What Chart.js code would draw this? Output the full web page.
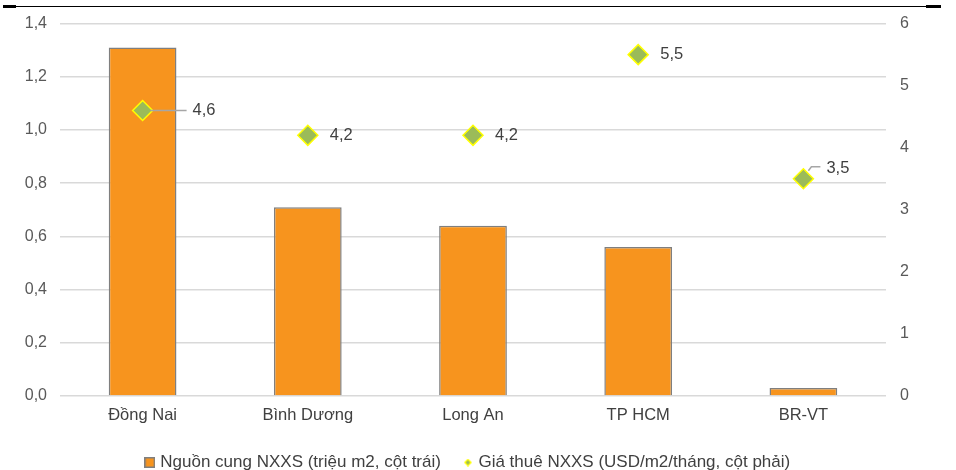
<!DOCTYPE html>
<html>
<head>
<meta charset="utf-8">
<script src="https://cdn.jsdelivr.net/npm/chart.js@4"></script>
<style>
  html, body { margin: 0; padding: 0; background: #fff; }
  #wrap { width: 956px; height: 470px; position: relative; }
</style>
</head>
<body>
<div id="wrap"><canvas id="c" width="956" height="470"></canvas></div>
<script>
// Industrial warehouse supply and rent by province
const provinces = ['Đồng Nai', 'Bình Dương', 'Long An', 'TP HCM', 'BR-VT'];
const supplyMillionM2 = [1.31, 0.71, 0.64, 0.56, 0.03];
const rentUsdM2Month = [4.6, 4.2, 4.2, 5.5, 3.5];
const leftTicks = [0, 0.2, 0.4, 0.6, 0.8, 1.0, 1.2, 1.4];
const leftTickLabels = ['0,0', '0,2', '0,4', '0,6', '0,8', '1,0', '1,2', '1,4'];
const rightTicks = [0, 1, 2, 3, 4, 5, 6];
const rightTickLabels = ['0', '1', '2', '3', '4', '5', '6'];
const rentLabelTexts = ['4,6', '4,2', '4,2', '5,5', '3,5'];
const seriesNames = ['Nguồn cung NXXS (triệu m2, cột trái)', 'Giá thuê NXXS (USD/m2/tháng, cột phải)'];

const FONT = "'Liberation Sans', Arial, sans-serif";
const BAR_FILL = '#F7941E', BAR_EDGE = '#7f7f7f';
const DOT_FILL = '#9BBB59', DOT_EDGE = '#FFFF00';

// Small legend swatches: a bordered square and a tiny diamond
function makeSwatch(w, h, draw) {
  const cv = document.createElement('canvas');
  cv.width = w; cv.height = h;
  draw(cv.getContext('2d'));
  return cv;
}
const squareSwatch = makeSwatch(11, 11, g => {
  g.fillStyle = BAR_EDGE; g.fillRect(0, 0, 11, 11);
  g.fillStyle = BAR_FILL; g.fillRect(1.5, 1.5, 8, 8);
});
const diamondSwatch = makeSwatch(8, 8, g => {
  g.beginPath(); g.moveTo(4, 0); g.lineTo(8, 4); g.lineTo(4, 8); g.lineTo(0, 4); g.closePath();
  g.fillStyle = DOT_EDGE; g.fill();
  g.beginPath(); g.moveTo(4, 1.8); g.lineTo(6.2, 4); g.lineTo(4, 6.2); g.lineTo(1.8, 4); g.closePath();
  g.fillStyle = DOT_FILL; g.fill();
});

// Thin rule across the top with heavier end caps
const topRule = {
  id: 'topRule',
  beforeDraw(chart) {
    const ctx = chart.ctx;
    ctx.save();
    ctx.fillStyle = '#000';
    ctx.fillRect(3, 6, 938, 1);
    ctx.fillRect(3, 5, 13, 3);
    ctx.fillRect(926, 5, 15, 3);
    ctx.restore();
  }
};

// Moves the legend block after layout
const legendNudge = {
  id: 'legendNudge',
  afterLayout(chart, args, opts) {
    const lg = chart.legend;
    if (!lg) return;
    lg.top += opts.dy; lg.bottom += opts.dy;
    lg.left += opts.dx; lg.right += opts.dx;
  }
};

// Value labels beside the rent markers, with short leader lines where needed
const rentLabels = {
  id: 'rentLabels',
  afterDatasetsDraw(chart, args, opts) {
    const ctx = chart.ctx;
    const meta = chart.getDatasetMeta(1);
    ctx.save();
    ctx.font = '16.5px ' + FONT;
    ctx.fillStyle = '#404040';
    ctx.textBaseline = 'middle';
    ctx.textAlign = 'left';
    meta.data.forEach((pt, i) => {
      const o = opts.offsets[i];
      if (o.leader) {
        ctx.strokeStyle = '#a6a6a6';
        ctx.lineWidth = 1.5;
        ctx.beginPath();
        ctx.moveTo(pt.x + o.leader[0][0], pt.y + o.leader[0][1]);
        for (let k = 1; k < o.leader.length; k++) ctx.lineTo(pt.x + o.leader[k][0], pt.y + o.leader[k][1]);
        ctx.stroke();
      }
      ctx.fillText(rentLabelTexts[i], pt.x + o.dx, pt.y + o.dy);
    });
    ctx.restore();
  }
};

new Chart(document.getElementById('c'), {
  data: {
    labels: provinces,
    datasets: [
      {
        type: 'bar',
        label: seriesNames[0],
        data: supplyMillionM2,
        yAxisID: 'y',
        backgroundColor: BAR_FILL,
        borderColor: BAR_EDGE,
        borderWidth: 1.5,
        borderSkipped: 'bottom',
        categoryPercentage: 1,
        barPercentage: 0.41,
        order: 2
      },
      {
        type: 'line',
        label: seriesNames[1],
        data: rentUsdM2Month,
        yAxisID: 'y1',
        showLine: false,
        pointStyle: 'rectRot',
        pointRadius: 10,
        pointHoverRadius: 10,
        pointBackgroundColor: DOT_FILL,
        pointBorderColor: DOT_EDGE,
        pointBorderWidth: 1.5,
        backgroundColor: DOT_FILL,
        borderColor: DOT_EDGE,
        order: 1
      }
    ]
  },
  options: {
    responsive: false,
    animation: false,
    events: [],
    layout: { padding: { top: 7, left: 0, right: 0, bottom: -12 } },
    plugins: {
      tooltip: { enabled: false },
      legendNudge: { dx: -9, dy: -1 },
      legend: {
        position: 'bottom',
        labels: {
          usePointStyle: true,
          boxWidth: 4,
          boxHeight: 11,
          padding: 25,
          color: '#404040',
          font: { family: FONT, size: 17 },
          generateLabels(chart) {
            const items = Chart.defaults.plugins.legend.labels.generateLabels(chart);
            items.forEach(it => { it.pointStyle = it.datasetIndex === 0 ? squareSwatch : diamondSwatch; });
            return items;
          },
          sort: (a, b) => a.datasetIndex - b.datasetIndex
        }
      },
      rentLabels: {
        offsets: [
          { dx: 50, dy: 0, leader: [[8, 0], [44, 0]] },
          { dx: 22, dy: 0 },
          { dx: 22, dy: 0 },
          { dx: 22, dy: 0 },
          { dx: 23, dy: -10, leader: [[5, -8], [8, -12], [17, -12]] }
        ]
      }
    },
    scales: {
      x: {
        grid: { display: false, drawTicks: false },
        border: { display: false },
        ticks: { color: '#404040', font: { family: FONT, size: 16.5 }, padding: 10, maxRotation: 0 },
        afterFit(s) { s.height = 34; }
      },
      y: {
        position: 'left',
        min: 0, max: 1.4,
        afterBuildTicks(s) { s.ticks = leftTicks.map(v => ({ value: v })); },
        ticks: { color: '#595959', font: { family: FONT, size: 16 }, padding: 13, callback: (v, i) => leftTickLabels[i] },
        grid: { color: '#d9d9d9', lineWidth: 1.5, drawTicks: false },
        border: { display: false },
        afterFit(s) { s.width = 60; }
      },
      y1: {
        position: 'right',
        min: 0, max: 6,
        afterBuildTicks(s) { s.ticks = rightTicks.map(v => ({ value: v })); },
        ticks: { color: '#595959', font: { family: FONT, size: 16 }, padding: 14, callback: (v, i) => rightTickLabels[i] },
        grid: { display: false, drawTicks: false },
        border: { display: false },
        afterFit(s) { s.width = 70; }
      }
    }
  },
  plugins: [topRule, legendNudge, rentLabels]
});
</script>
</body>
</html>
